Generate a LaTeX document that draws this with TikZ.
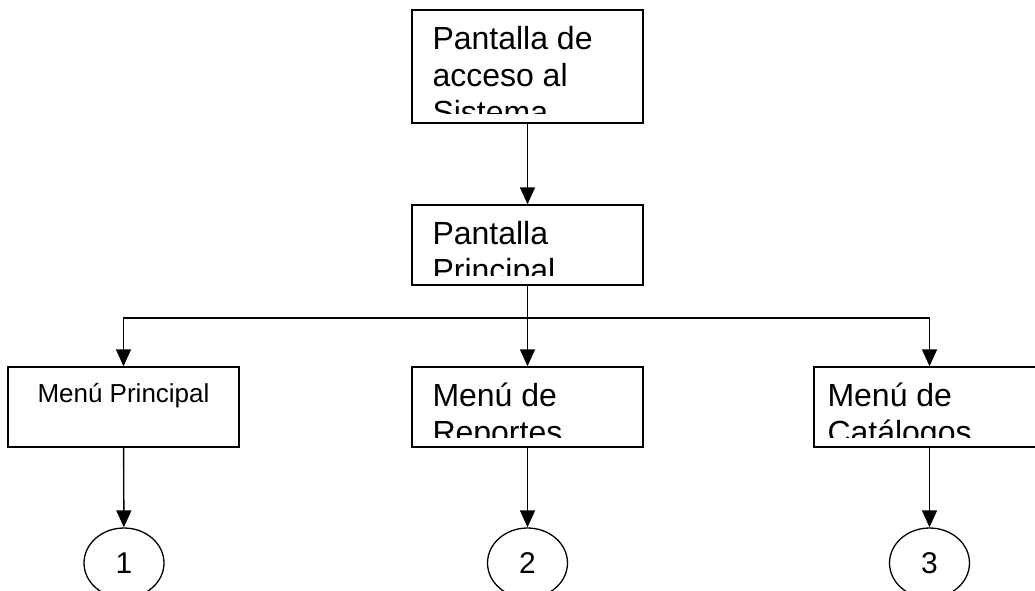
\documentclass[tikz,border=0pt]{standalone}
\usepackage{fontspec}
\setmainfont{Liberation Sans}
\usetikzlibrary{
  arrows.meta,
  shapes.geometric,
  positioning,
  calc
}
\tikzset{
  scrbox/.style={
    draw, rectangle, line width=1.4pt, minimum width=231pt, minimum height=80pt,
    inner sep=0pt
  },
  scrtxt/.style={inner sep=0pt, anchor=base west, font=\fontsize{32}{37}\selectfont},
  menutxt/.style={inner sep=0pt, anchor=base, font=\fontsize{26}{30}\selectfont},
  conector/.style={
    draw, ellipse, line width=1.3pt, minimum width=80pt, minimum height=70pt,
    inner sep=0pt, font=\fontsize{30}{34}\selectfont
  },
  flecha/.style={-{Triangle[length=17pt, width=15pt]}, line width=1.4pt},
  linea/.style={line width=1.4pt}
}
% texto de pantalla recortado al borde inferior de la caja
\newcommand{\pantxt}[3][21]{%
  \begin{scope}
    \clip ($(#2.south west)+(0,-10)$) rectangle (#2.north east);
    \node[scrtxt] (t#2) at ($(#2.north west)+(#1,40)$)
      {\parbox[t]{210pt}{\raggedright #3}};
  \end{scope}}

\begin{document}
\begin{tikzpicture}[x=1pt, y=-1pt]
  \clip (0,0) rectangle (1035,590);
  \node[scrbox, minimum height=113pt] (acc) at (527.5,66.5) {};
  \node[scrbox] (ppal) at (527.5,245) {};
  \node[scrbox] (mprin) at (123.5,407) {};
  \node[scrbox] (mrep) at (527.5,407) {};
  \node[scrbox] (mcat) at (929.5,407) {};
  \pantxt{acc}{Pantalla de\\acceso al\\Sistema}
  \pantxt{ppal}{Pantalla\\Principal}
  \pantxt{mrep}{Menú de\\Reportes}
  \pantxt[14]{mcat}{Menú de\\Catálogos}
  \node[menutxt] (tmprin) at ($(mprin.north)+(0,36)$) {Menú Principal};
  \node[conector] (c1) at (124,563) {1};
  \node[conector] (c2) at (527.5,563) {2};
  \node[conector] (c3) at (929.5,563) {3};
  \coordinate (rama) at (527.5,318);
  \draw[flecha] (acc) -- (ppal);
  \draw[linea] (ppal.south) -- (rama);
  \draw[flecha] (rama) -| (mprin.north);
  \draw[flecha] (rama) -- (mrep.north);
  \draw[flecha] (rama) -| (mcat.north);
  \draw[flecha] (mprin) -- (c1);
  \draw[flecha] (mrep) -- (c2);
  \draw[flecha] (mcat) -- (c3);
\end{tikzpicture}
\end{document}
